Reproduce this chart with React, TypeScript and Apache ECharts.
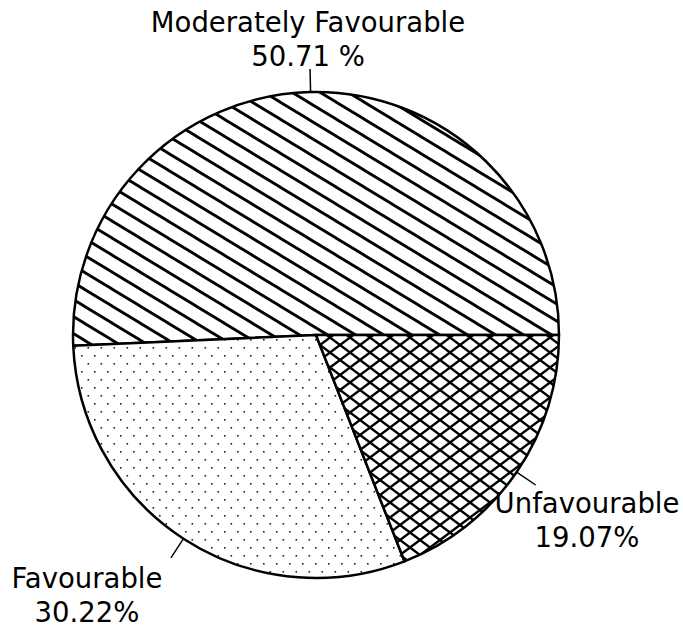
import React, { useEffect, useRef } from "react";
import * as echarts from "echarts";

// Survey response shares (percent of respondents)
const categories = ["Moderately Favourable", "Favourable", "Unfavourable"];
const shares = [50.71, 30.22, 19.07];
const percentSuffix = [" %", "%", "%"];

// Label anchor points (centre of each two-line label block)
const labelAnchors: [number, number][] = [
  [308, 39],
  [87, 595],
  [587, 520],
];

function makeCanvas(w: number, h: number) {
  const c = document.createElement("canvas");
  c.width = w;
  c.height = h;
  const ctx = c.getContext("2d")!;
  ctx.fillStyle = "#fff";
  ctx.fillRect(0, 0, w, h);
  return { c, ctx };
}

// Single diagonal hatch, descending to the right
function hatchPattern() {
  const w = 28;
  const h = 17;
  const { c, ctx } = makeCanvas(w, h);
  ctx.strokeStyle = "#000";
  ctx.lineWidth = 2.8;
  for (let k = -2; k <= 2; k++) {
    ctx.beginPath();
    ctx.moveTo(k * w - w, -h);
    ctx.lineTo(k * w + 2 * w, 2 * h);
    ctx.stroke();
  }
  return { image: c, repeat: "repeat", imageWidth: w, imageHeight: h };
}

// Diamond cross-hatch
function crossPattern() {
  const w = 20;
  const h = 15;
  const { c, ctx } = makeCanvas(w, h);
  ctx.strokeStyle = "#000";
  ctx.lineWidth = 2.4;
  for (let k = -2; k <= 2; k++) {
    ctx.beginPath();
    ctx.moveTo(k * w - w, -h);
    ctx.lineTo(k * w + 2 * w, 2 * h);
    ctx.stroke();
    ctx.beginPath();
    ctx.moveTo(k * w - w, 2 * h);
    ctx.lineTo(k * w + 2 * w, -h);
    ctx.stroke();
  }
  return { image: c, repeat: "repeat", imageWidth: w, imageHeight: h };
}

// Sparse staggered dots
function dotPattern() {
  const w = 13;
  const h = 16;
  const { c, ctx } = makeCanvas(w, h);
  ctx.fillStyle = "#222";
  ctx.fillRect(3, 3, 1.6, 1.6);
  ctx.fillRect(9.5, 11, 1.6, 1.6);
  return { image: c, repeat: "repeat", imageWidth: w, imageHeight: h };
}

export default function App() {
  const ref = useRef<HTMLDivElement>(null);

  useEffect(() => {
    document.body.style.margin = "0";
    if (!ref.current) return;
    const chart = echarts.init(ref.current, undefined, { renderer: "svg" });
    const fills = [hatchPattern(), dotPattern(), crossPattern()];

    chart.setOption({
      animation: false,
      backgroundColor: "#fff",
      series: [
        {
          type: "pie",
          center: [316, 335],
          radius: [0, 243],
          startAngle: 0,
          clockwise: false,
          avoidLabelOverlap: false,
          emphasis: { disabled: true },
          itemStyle: { borderColor: "#000", borderWidth: 2.5 },
          data: categories.map((name, i) => ({
            name,
            value: shares[i],
            itemStyle: { color: fills[i] },
          })),
          label: {
            show: true,
            position: "outside",
            fontFamily: "DejaVu Sans",
            fontSize: 27.5,
            lineHeight: 34,
            color: "#000",
            align: "center",
            formatter: (p: any) =>
              `${p.name}\n${Number(p.value).toFixed(2)}${percentSuffix[p.dataIndex]}`,
          },
          labelLine: {
            show: true,
            length: 23,
            length2: 0,
            lineStyle: { color: "#000", width: 1.5 },
          },
          labelLayout: (params: any) => {
            const [x, y] = labelAnchors[params.dataIndex];
            const pts = params.labelLinePoints;
            const out: any = { x, y, align: "center", verticalAlign: "middle" };
            if (pts && pts.length >= 2) {
              out.labelLinePoints = [pts[0], pts[1], pts[1]];
            }
            return out;
          },
        },
      ],
    });

    return () => chart.dispose();
  }, []);

  return <div ref={ref} style={{ width: 683, height: 627 }} />;
}
